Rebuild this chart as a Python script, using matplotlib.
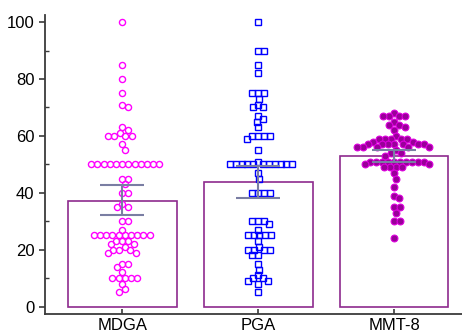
import matplotlib
matplotlib.use("Agg")
import matplotlib.pyplot as plt
import numpy as np

plt.rcParams["font.family"] = ["Liberation Sans", "DejaVu Sans"]

groups = ["MDGA", "PGA", "MMT-8"]

mdga = [100, 85, 80, 75, 71, 70, 63, 62, 61, 60, 60, 60, 60, 57, 55,
        50, 50, 50, 50, 50, 50, 50, 50, 50, 50, 50, 50,
        45, 45, 43, 40, 40, 36, 35, 35, 30, 30, 27,
        25, 25, 25, 25, 25, 25, 25, 25, 25, 25,
        23, 23, 23, 22, 22, 21, 20, 20, 20, 19, 19,
        15, 15, 14, 12, 10, 10, 10, 10, 10, 8, 6, 5]

pga = [100, 90, 90, 85, 82, 75, 75, 75, 73, 71, 70, 70, 67, 66, 65, 63,
       60, 60, 60, 60, 59, 55, 51,
       50, 50, 50, 50, 50, 50, 50, 50, 50, 50, 50,
       47, 45, 40, 40, 40, 40, 30, 30, 30, 29, 27,
       25, 25, 25, 25, 25, 23, 21, 20, 20, 20, 20, 18, 18,
       15, 13, 11, 10, 10, 9, 9, 8, 5]

mmt8 = [68, 67, 67, 67, 67, 65, 64, 64, 63, 62, 60,
        59, 59, 59, 59, 59, 58, 58,
        57, 57, 57, 57, 57, 57, 57, 56, 56, 56, 56, 56,
        55, 54, 54, 53,
        51, 51, 51, 51, 51, 51, 51, 51, 51, 51,
        50, 50, 49, 49, 49, 49, 47, 45, 42, 39, 38, 35, 35, 33, 30, 30, 24]

bar_means = [37.2, 43.9, 53.0]
err_low = [32.1, 38.3, 51.0]
err_high = [42.9, 49.6, 55.1]

BAR_EDGE = "#8E2A8E"
ERR_COLOR = "#7A7EA3"
AXIS_COLOR = "#3A3A3A"

point_styles = [
    dict(marker="o", ms=4.4, mfc="none", mec="#FF00FF", mew=1.0, spacing=6.2),
    dict(marker="s", ms=4.0, mfc="none", mec="#0000FF", mew=1.0, spacing=5.8),
    dict(marker="o", ms=4.9, mfc="#990099", mec="#DD00DD", mew=0.8, spacing=6.0),
]


def swarm_offsets(ax, x0, values, spacing):
    """Greedy beeswarm: returns x offsets (data units) so markers don't overlap."""
    values = np.asarray(values, dtype=float)
    pts = ax.transData.transform(np.column_stack([np.full(len(values), x0), values]))
    ys = pts[:, 1]
    px_per_x = ax.transData.transform((x0 + 1, 0))[0] - pts[0, 0]
    order = np.argsort(-values, kind="stable")
    placed = []
    offsets = np.zeros(len(values))
    for i in order:
        y = ys[i]
        cands = [0.0]
        for px, py in placed:
            dy = abs(py - y)
            if dy < spacing:
                dx = np.sqrt(spacing ** 2 - dy ** 2)
                cands += [px + dx, px - dx]
        cands = sorted(cands, key=lambda c: (round(abs(c), 6), -c))
        for c in cands:
            if all((c - px) ** 2 + (y - py) ** 2 >= spacing ** 2 - 1e-6 for px, py in placed):
                break
        placed.append((c, y))
        offsets[i] = c / px_per_x
    return offsets


fig = plt.figure(figsize=(4.62, 3.35), dpi=100)
ax = fig.add_axes([0.097, 0.062, 0.903, 0.893])
ax.set_xlim(-0.57, 2.5)
ax.set_ylim(-2.7, 102.5)

x = np.arange(len(groups))
ax.bar(x, bar_means, width=0.8, color="none", edgecolor=BAR_EDGE, linewidth=1.2, zorder=1)

for xi, vals, st in zip(x, [mdga, pga, mmt8], point_styles):
    st = dict(st)
    spacing = st.pop("spacing")
    offs = swarm_offsets(ax, xi, vals, spacing)
    ax.plot(xi + offs, vals, linestyle="none", zorder=2, **st)

yerr = [np.array(bar_means) - np.array(err_low), np.array(err_high) - np.array(bar_means)]
ax.errorbar(x, bar_means, yerr=yerr, fmt="none", ecolor=ERR_COLOR, elinewidth=1.5,
            capsize=16, capthick=1.5, zorder=3)

for side in ("top", "right"):
    ax.spines[side].set_visible(False)
for side in ("left", "bottom"):
    ax.spines[side].set_color(AXIS_COLOR)
    ax.spines[side].set_linewidth(1.3)

ax.set_xticks(x)
ax.set_xticklabels(groups, fontsize=12)
ax.set_yticks(np.arange(0, 101, 20))
ax.set_yticks(np.arange(10, 100, 20), minor=True)
ax.tick_params(axis="y", which="major", direction="out", length=4.5, width=1.2,
               color=AXIS_COLOR, labelsize=12, pad=3)
ax.tick_params(axis="y", which="minor", direction="in", length=3, width=1.0, color=AXIS_COLOR)
ax.tick_params(axis="x", which="major", direction="in", length=3.5, width=1.2,
               color=AXIS_COLOR, pad=3)

fig.savefig("out.png", dpi=100)
